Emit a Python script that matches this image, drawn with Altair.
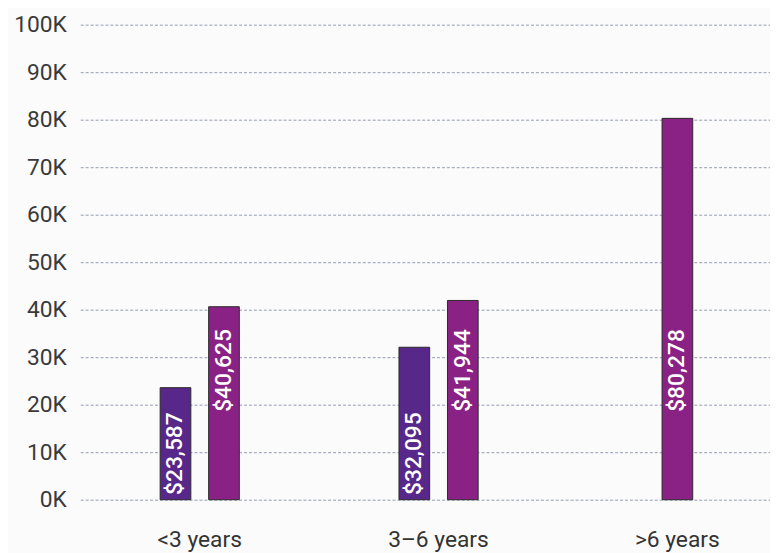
import altair as alt
import pandas as pd

categories = ["<3 years", "3–6 years", ">6 years"]
bar_group = ["<3 years", "<3 years", "3–6 years", "3–6 years", ">6 years"]
bar_series = ["Series A", "Series B", "Series A", "Series B", "Series B"]
bar_slot = ["left", "right", "left", "right", "middle"]
bar_values = [23587, 40625, 32095, 41944, 80278]
y_ticks = [0, 10000, 20000, 30000, 40000, 50000, 60000, 70000, 80000, 90000, 100000]
series_names = ["Series A", "Series B"]
series_colors = ["#57278a", "#8a2285"]
slot_order = ["left", "middle", "right"]

df = pd.DataFrame({
    "group": bar_group,
    "series": bar_series,
    "slot": bar_slot,
    "value": bar_values,
})

FONT = "Roboto"

x_enc = alt.X(
    "group:N",
    sort=categories,
    scale=alt.Scale(domain=categories, range=[1, 725], paddingInner=0, paddingOuter=0),
    axis=alt.Axis(title=None, labelAngle=0, ticks=False, domain=False, grid=False,
                  labelFont=FONT, labelFontSize=23, labelColor="#333333", labelPadding=29),
)
xo_enc = alt.XOffset(
    "slot:N",
    scale=alt.Scale(domain=slot_order, range=[84, 157.5], paddingInner=0, paddingOuter=0),
)

base = alt.Chart(df)

bars = base.mark_bar(width=31, stroke="#2b2b2b", strokeWidth=1).encode(
    x=x_enc,
    xOffset=xo_enc,
    y=alt.Y(
        "value:Q",
        scale=alt.Scale(domain=[0, 100000], nice=False),
        axis=alt.Axis(title=None, values=y_ticks, labelExpr="datum.value / 1000 + 'K'",
                      ticks=False, domain=False, grid=True, gridDash=[3, 2],
                      gridColor="#959cb0", gridWidth=1, labelFont=FONT, labelFontSize=23,
                      labelColor="#3a3a3a", labelPadding=13),
    ),
    color=alt.Color("series:N", scale=alt.Scale(domain=series_names, range=series_colors), legend=None),
)

text_a = base.transform_filter(alt.datum.series == "Series A").mark_text(
    angle=270, align="left", baseline="middle", color="white", font=FONT,
    fontSize=23, fontWeight=500
).encode(
    x=x_enc,
    xOffset=xo_enc,
    y=alt.datum(1000),
    text=alt.Text("value:Q", format="$,d"),
)

text_b = base.transform_filter(alt.datum.series == "Series B").mark_text(
    angle=270, align="left", baseline="middle", color="white", font=FONT,
    fontSize=23, fontWeight=500
).encode(
    x=x_enc,
    xOffset=xo_enc,
    y=alt.datum(18500),
    text=alt.Text("value:Q", format="$,d"),
)

chart = alt.layer(bars, text_a, text_b).properties(
    width=698,
    height=480,
    autosize=alt.AutoSizeParams(type="none"),
    padding={"left": 72, "top": 14, "right": 0, "bottom": 52},
    background="#fbfbfc",
).configure_view(stroke=None)

chart.save("out.html", embed_options={"renderer": "svg", "actions": False})
